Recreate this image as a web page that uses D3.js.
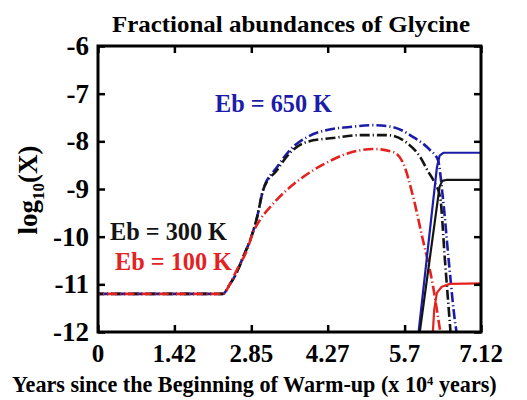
<!DOCTYPE html>
<html><head><meta charset="utf-8">
<script src="https://cdn.jsdelivr.net/npm/d3@7"></script>
<style>html,body{margin:0;padding:0;background:#fff;}svg{display:block;}</style>
</head><body>
<svg id="chart" width="527" height="400"></svg>
<script>
// ---- data ----
const xTicks = [0, 1.42, 2.85, 4.27, 5.7, 7.12];
const xTickLabels = ["0", "1.42", "2.85", "4.27", "5.7", "7.12"];
const yTicks = [-6, -7, -8, -9, -10, -11, -12];
const yTickLabels = ["-6", "-7", "-8", "-9", "-10", "-11", "-12"];

// dashed curves
const blueDashX = [0, 2.32, 2.45, 2.58, 2.70, 2.83, 2.96, 3.07, 3.33, 3.57, 3.89, 4.26, 4.68, 5.11, 5.48, 5.86, 6.17, 6.32, 6.41, 6.52, 6.64, 6.68];
const blueDashY = [-11.2, -11.2, -11.0, -10.75, -10.42, -10.07, -9.58, -9.02, -8.54, -8.18, -7.91, -7.76, -7.70, -7.66, -7.70, -7.91, -8.18, -8.39, -9.17, -10.5, -11.81, -12.1];
const blackDashX = [0, 2.32, 2.45, 2.58, 2.70, 2.83, 2.96, 3.07, 3.33, 3.57, 3.89, 4.37, 4.87, 5.37, 5.74, 5.99, 6.13, 6.25, 6.36, 6.45, 6.54, 6.56];
const blackDashY = [-11.2, -11.2, -11.0, -10.75, -10.42, -10.07, -9.58, -9.02, -8.60, -8.24, -8.01, -7.93, -7.87, -7.87, -8.03, -8.33, -8.62, -8.85, -9.17, -10.5, -11.81, -12.1];
const redDashX = [0, 2.32, 2.45, 2.58, 2.77, 2.88, 3.01, 3.20, 3.51, 3.81, 4.18, 4.68, 5.11, 5.48, 5.67, 5.86, 6.04, 6.17, 6.23, 6.32, 6.37];
const redDashY = [-11.2, -11.2, -11.0, -10.70, -10.28, -9.92, -9.65, -9.38, -9.02, -8.75, -8.49, -8.24, -8.16, -8.22, -8.45, -9.17, -10.07, -10.70, -11.05, -11.68, -12.05];

// solid curves
const blueSolidX = [5.95, 6.30, 6.35, 6.42, 7.12];
const blueSolidY = [-12.1, -8.55, -8.30, -8.24, -8.24];
const blackSolidX = [5.97, 6.35, 6.40, 6.47, 7.12];
const blackSolidY = [-12.1, -8.95, -8.83, -8.81, -8.81];
const redSolidX = [6.22, 6.25, 6.30, 6.39, 6.54, 7.12];
const redSolidY = [-12.1, -11.53, -11.18, -11.05, -10.99, -10.98];

const labels = ["Eb = 650 K", "Eb = 300 K", "Eb = 100 K"];
const titleText = "Fractional abundances of Glycine";

// ---- drawing ----
const svg = d3.select("#chart");
const L = 98, R = 481, T = 46, B = 332;
const x = d3.scaleLinear().domain([0, 7.12]).range([L, R]);
const y = d3.scaleLinear().domain([-12, -6]).range([B, T]);

const BLUE = "#1c1ca8", RED = "#e2231f", BLACK = "#141414";
const serif = "'Times New Roman', 'Liberation Serif', Tinos, Times, serif";

svg.append("defs").append("clipPath").attr("id", "clip")
  .append("rect").attr("x", L).attr("y", T).attr("width", R - L).attr("height", B - T);

const g = svg.append("g").attr("clip-path", "url(#clip)");
const zip = (xs, ys) => xs.map((v, i) => [v, ys[i]]);
const smooth = d3.line().x(d => x(d[0])).y(d => y(d[1])).curve(d3.curveMonotoneX);
const lin = d3.line().x(d => x(d[0])).y(d => y(d[1]));

function dashed(xs, ys, color, off) {
  g.append("path").attr("d", smooth(zip(xs, ys)))
    .attr("fill", "none").attr("stroke", color).attr("stroke-width", 2.6)
    .attr("stroke-dasharray", "10,3,1.2,3").attr("stroke-dashoffset", off);
}
function solid(xs, ys, color) {
  g.append("path").attr("d", lin(zip(xs, ys)))
    .attr("fill", "none").attr("stroke", color).attr("stroke-width", 2.2)
    .attr("stroke-linejoin", "round");
}
dashed(blueDashX, blueDashY, BLUE, 0);
dashed(blackDashX, blackDashY, BLACK, 4);
dashed(redDashX, redDashY, RED, 8);
solid(blueSolidX, blueSolidY, BLUE);
solid(blackSolidX, blackSolidY, BLACK);
solid(redSolidX, redSolidY, RED);

// axes (ticks inward)
const tl = 7;
const axB = d3.axisBottom(x).tickValues(xTicks).tickSize(-tl).tickFormat(() => "");
const axT = d3.axisTop(x).tickValues(xTicks).tickSize(-tl).tickFormat(() => "");
const axL = d3.axisLeft(y).tickValues(yTicks).tickSize(-tl).tickFormat(() => "");
const axR = d3.axisRight(y).tickValues(yTicks).tickSize(-tl).tickFormat(() => "");
[[axB, `translate(0,${B})`], [axT, `translate(0,${T})`], [axL, `translate(${L},0)`], [axR, `translate(${R},0)`]]
  .forEach(([ax, tr]) => {
    const a = svg.append("g").attr("transform", tr).call(ax);
    a.select(".domain").remove();
    a.selectAll("line").attr("stroke", "#000").attr("stroke-width", 2.5);
  });
svg.append("rect").attr("x", L).attr("y", T).attr("width", R - L).attr("height", B - T)
  .attr("fill", "none").attr("stroke", "#000").attr("stroke-width", 3);

// tick labels
svg.selectAll(".xl").data(xTicks).enter().append("text")
  .attr("x", d => x(d)).attr("y", 362).attr("text-anchor", "middle")
  .attr("font-family", serif).attr("font-weight", "bold").attr("font-size", 25)
  .text((d, i) => xTickLabels[i]);
svg.selectAll(".yl").data(yTicks).enter().append("text")
  .attr("x", 89).attr("y", d => y(d) + 9).attr("text-anchor", "end")
  .attr("font-family", serif).attr("font-weight", "bold").attr("font-size", 27)
  .text((d, i) => yTickLabels[i]);

// title
svg.append("text").attr("x", 291).attr("y", 32).attr("text-anchor", "middle")
  .attr("font-family", serif).attr("font-weight", "bold").attr("font-size", 23)
  .attr("textLength", 358).attr("lengthAdjust", "spacingAndGlyphs").text(titleText);

// x axis title (scaled horizontally to fit the reference width)
const xg = svg.append("g");
const xt = xg.append("text").attr("x", 0).attr("y", 0)
  .attr("font-family", serif).attr("font-weight", "bold").attr("font-size", 23);
xt.append("tspan").text("Years since the Beginning of Warm-up (x 10");
xt.append("tspan").attr("dy", -7).attr("font-size", 13).text("4");
xt.append("tspan").attr("dy", 7).text(" years)");
const xw = xt.node().getBBox().width;
xg.attr("transform", `translate(12,392) scale(${485 / xw},1)`);

// y axis title
const yt = svg.append("text").attr("transform", "translate(37,190) rotate(-90)")
  .attr("text-anchor", "middle").attr("font-family", serif).attr("font-weight", "bold").attr("font-size", 27);
yt.append("tspan").text("log");
yt.append("tspan").attr("dy", 7).attr("font-size", 17).text("10");
yt.append("tspan").attr("dy", -7).text("(X)");

// series labels
const lab = [[215, 112, BLUE], [110, 240, BLACK], [115, 270, RED]];
lab.forEach((p, i) => {
  svg.append("text").attr("x", p[0]).attr("y", p[1]).attr("fill", p[2])
    .attr("font-family", serif).attr("font-weight", "bold").attr("font-size", 25)
    .attr("textLength", 117).attr("lengthAdjust", "spacingAndGlyphs")
    .text(labels[i]);
});
</script>
</body></html>
